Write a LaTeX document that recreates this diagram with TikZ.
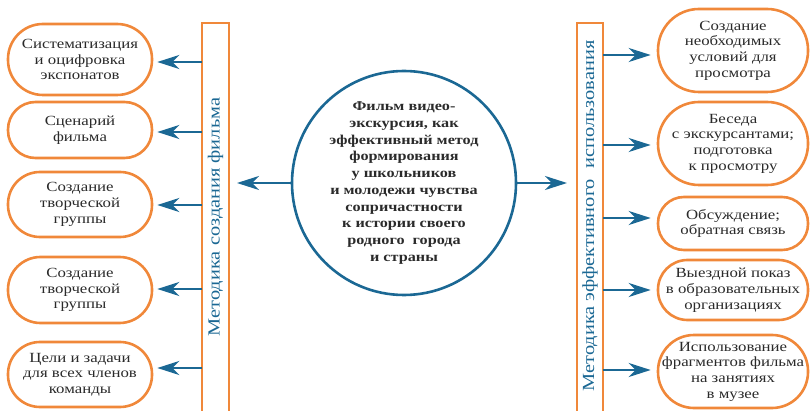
\documentclass[tikz,border=0pt]{standalone}
\usepackage{fontspec}
\setmainfont[FakeStretch=1.2]{Liberation Serif}
\usetikzlibrary{arrows.meta}
\definecolor{orng}{HTML}{F0883A}
\definecolor{blu}{HTML}{1B6894}
\definecolor{txt}{HTML}{2A2A2A}
\tikzset{
  box/.style={draw=orng, line width=2.6pt, align=center, text=txt,
    font=\fontsize{14}{15.7}\selectfont, inner sep=0pt},
  bar/.style={draw=orng, line width=2.6pt},
  arr/.style={draw=blu, line width=2.6pt, -{Stealth[length=22pt,width=14pt,inset=7pt]}},
  vtext/.style={rotate=90, text=blu, font=\fontsize{17}{17}\selectfont},
}
\begin{document}
\begin{tikzpicture}[x=1pt,y=-1pt]
\useasboundingbox (0,0) rectangle (810,411);
% bars
\draw[bar] (202,415) -- (202,23) -- (229,23) -- (229,415);
\draw[bar] (577,415) -- (577,23) -- (603,23) -- (603,415);
\coordinate (lbl) at (229,183);
\coordinate (rbl) at (577,183);
\node[vtext] (lt) at (215.5,217) {Методика создания фильма};
\node[vtext] (rt) at (590,216) {Методика эффективного\ \ использования};
% circle
\node[draw=blu, line width=2.6pt, circle, minimum size=224pt, inner sep=0pt,
  align=center, text=txt, font=\bfseries\fontsize{13.5}{16.7}\selectfont] (c) at (404,183)
  {Фильм видео-\\экскурсия, как\\эффективный метод\\формирования\\у школьников\\и молодежи чувства\\сопричастности\\к истории своего\\родного\ \ города\\и страны};
% left boxes
\newcommand{\lbox}[4]{\node[box, minimum width=144pt, minimum height=#3pt, rounded corners=#3pt/2-0.5pt] (#1) at (80,#2) {#4};}
\lbox{l1}{59.5}{71}{Систематизация\\и оцифровка\\экспонатов}
\lbox{l2}{130}{56}{Сценарий\\фильма}
\lbox{l3}{204.5}{65}{Создание\\творческой\\группы}
\lbox{l4}{290}{66}{Создание\\творческой\\группы}
\lbox{l5}{374.5}{65}{Цели и задачи\\для всех членов\\команды}
% right boxes
\newcommand{\rbox}[4]{\node[box, minimum width=150pt, minimum height=#3pt, rounded corners=#3pt/2-0.5pt] (#1) at (733,#2) {#4};}
\rbox{r1}{50.5}{83}{Создание\\необходимых\\условий для\\просмотра}
\rbox{r2}{143.5}{83}{Беседа\\с экскурсантами;\\подготовка\\к просмотру}
\rbox{r3}{223.5}{53}{Обсуждение;\\обратная связь}
\rbox{r4}{290}{60}{Выездной показ\\в образовательных\\организациях}
\rbox{r5}{371.5}{73}{Использование\\фрагментов фильма\\на занятиях\\в музее}
% arrows
\foreach \n/\y in {l1/62,l2/132,l3/205,l4/289,l5/368}{
  \draw[arr] (202,\y) -- ([xshift=4pt]\n.east |- 0,\y);
}
\foreach \n/\y in {r1/55,r2/145,r3/218,r4/290,r5/370}{
  \draw[arr] (603,\y) -- ([xshift=-6pt]\n.west |- 0,\y);
}
\draw[arr] (c.west) -- ([xshift=8pt]lbl);
\draw[arr] (c.east) -- ([xshift=-10pt]rbl);
\end{tikzpicture}
\end{document}
